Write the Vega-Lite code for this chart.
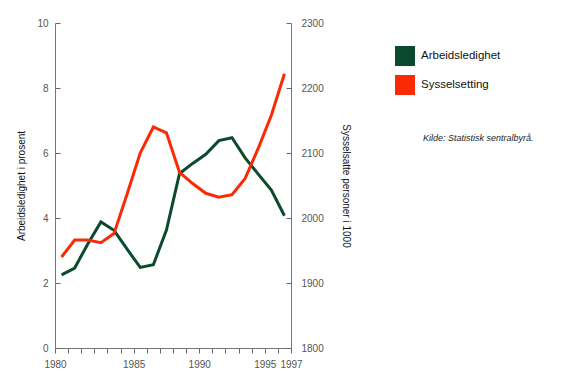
{
  "$schema": "https://vega.github.io/schema/vega-lite/v6.json",
  "autosize": "none",
  "width": 236,
  "height": 325,
  "padding": {"left": 55, "top": 23, "right": 276, "bottom": 36},
  "background": "white",
  "config": {
    "view": {"stroke": null, "fill": null},
    "font": "Liberation Sans",
    "axis": {"zindex": 1, "grid": false, "domainColor": "#777777", "tickColor": "#666666", "labelColor": "#555555", "labelFontSize": 10, "labelFont": "Liberation Sans", "titleFont": "Liberation Sans", "titleFontSize": 10, "titleFontWeight": "normal", "titleColor": "#111111", "domainWidth": 1, "tickWidth": 1}
  },
  "title": {"text": "Kilde: Statistisk sentralbyrå.", "anchor": "start", "frame": "group", "orient": "top", "dx": 368, "dy": 129, "font": "Liberation Sans", "fontSize": 9, "fontStyle": "italic", "fontWeight": "normal", "color": "#222222"},
  "data": {"values": [
    {"year": 1980, "ledighet": 2.25, "syssel": 1940},
    {"year": 1981, "ledighet": 2.46, "syssel": 1966},
    {"year": 1982, "ledighet": 3.2, "syssel": 1966},
    {"year": 1983, "ledighet": 3.88, "syssel": 1962},
    {"year": 1984, "ledighet": 3.62, "syssel": 1976},
    {"year": 1985, "ledighet": 3.04, "syssel": 2037},
    {"year": 1986, "ledighet": 2.48, "syssel": 2100},
    {"year": 1987, "ledighet": 2.56, "syssel": 2140},
    {"year": 1988, "ledighet": 3.63, "syssel": 2131},
    {"year": 1989, "ledighet": 5.37, "syssel": 2070},
    {"year": 1990, "ledighet": 5.68, "syssel": 2053},
    {"year": 1991, "ledighet": 5.96, "syssel": 2038},
    {"year": 1992, "ledighet": 6.38, "syssel": 2032},
    {"year": 1993, "ledighet": 6.47, "syssel": 2036},
    {"year": 1994, "ledighet": 5.85, "syssel": 2061},
    {"year": 1995, "ledighet": 5.35, "syssel": 2107},
    {"year": 1996, "ledighet": 4.86, "syssel": 2158},
    {"year": 1997, "ledighet": 4.07, "syssel": 2222}
  ]},
  "encoding": {
    "x": {"field": "year", "type": "quantitative", "scale": {"domain": [1979.5, 1997.5], "nice": false, "zero": false},
      "axis": {"title": null, "values": [1979.5,1980.5,1981.5,1982.5,1983.5,1984.5,1985.5,1986.5,1987.5,1988.5,1989.5,1990.5,1991.5,1992.5,1993.5,1994.5,1995.5,1996.5,1997.5],
        "labelExpr": "datum.value == 1979.5 ? '1980' : datum.value == 1985.5 ? '1985' : datum.value == 1990.5 ? '1990' : datum.value == 1995.5 ? '1995' : datum.value == 1997.5 ? '1997' : ''",
        "ticks": true, "tickSize": 5, "tickColor": "#666666",
        "labelPadding": 6, "labelFlush": false, "labelOverlap": false}}
  },
  "layer": [
    {
      "mark": {"type": "line", "strokeWidth": 3, "strokeJoin": "miter"},
      "encoding": {
        "y": {"field": "ledighet", "type": "quantitative", "scale": {"domain": [0, 10], "nice": false},
          "axis": {"title": "Arbeidsledighet i prosent", "values": [0,2,4,6,8,10], "tickSize": -5, "labelPadding": 12, "titlePadding": 10}},
        "color": {"datum": "Arbeidsledighet", "type": "nominal",
          "scale": {"domain": ["Arbeidsledighet", "Sysselsetting"], "range": ["#0b4a2c", "#f92a05"]},
          "legend": {"title": null, "orient": "none", "legendX": 340, "legendY": 23, "padding": 0,
            "symbolType": "square", "symbolSize": 400, "symbolStrokeWidth": 0, "symbolOpacity": 1,
            "labelFont": "Liberation Sans", "labelFontSize": 11.5, "labelColor": "#111111", "labelOffset": 6, "rowPadding": 9,
            "encode": {"symbols": {"update": {"fill": {"scale": "color", "field": "value"}, "strokeWidth": {"value": 0}}}}}}
      }
    },
    {
      "mark": {"type": "line", "strokeWidth": 3, "strokeJoin": "miter"},
      "encoding": {
        "y": {"field": "syssel", "type": "quantitative", "scale": {"domain": [1800, 2300], "nice": false, "zero": false},
          "axis": {"orient": "right", "title": "Sysselsatte personer i 1000", "values": [1800,1900,2000,2100,2200,2300], "tickSize": -5, "format": "d", "labelPadding": 15, "titlePadding": 17}},
        "color": {"datum": "Sysselsetting", "type": "nominal"}
      }
    }
  ],
  "resolve": {"scale": {"y": "independent"}, "axis": {"y": "independent"}}
}
